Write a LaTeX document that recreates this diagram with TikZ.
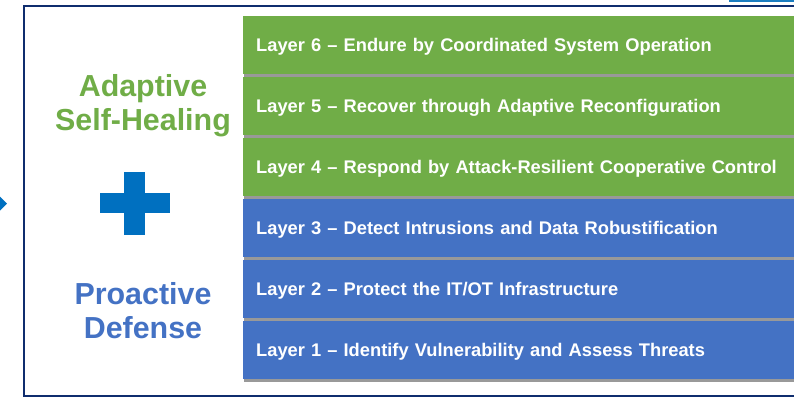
\documentclass[tikz,border=0pt]{standalone}
\usepackage{fontspec}
\setmainfont{Liberation Sans}
\usetikzlibrary{shadows}
\definecolor{layergreen}{HTML}{70AD47}
\definecolor{layerblue}{HTML}{4472C4}
\definecolor{framenavy}{HTML}{0F2D6E}
\definecolor{crossblue}{HTML}{0070C0}
\definecolor{barblue}{HTML}{1A7DC0}
\begin{document}
\begin{tikzpicture}[x=1pt,y=-1pt,
  layerbox/.style={anchor=north west, minimum height=58pt, text width=580pt,
    inner xsep=13pt, inner ysep=0pt, align=left, text=white,
    font=\fontsize{18.3}{20}\selectfont\bfseries, text height=13.1pt, text depth=0pt,
    drop shadow={shadow xshift=0.6pt, shadow yshift=-2.6pt, opacity=0.4, fill=black}},
  greenlayer/.style={layerbox, fill=layergreen},
  bluelayer/.style={layerbox, fill=layerblue},
  headline/.style={anchor=base, inner sep=0pt, font=\fontsize{30.4}{34}\selectfont\bfseries},
  frameline/.style={draw=framenavy, line width=2.3pt},
  ]
\useasboundingbox (0,0) rectangle (794,399);

% accent bar and outer frame
\fill[barblue] (729,0) rectangle (794,2.2);
\draw[frameline] (800,6) -- (24,6) -- (24,396) -- (800,396);

% arrow tip entering from the left
\fill[crossblue] (0,196.5) -- (7,203.5) -- (0,210.5) -- cycle;

% stacked layers
\node[greenlayer] (l6) at (243,16)  {Layer 6 – Endure by Coordinated System Operation};
\node[greenlayer] (l5) at (243,77)  {Layer 5 – Recover through Adaptive Reconfiguration};
\node[greenlayer] (l4) at (243,138) {Layer 4 – Respond by Attack-Resilient Cooperative Control};
\node[bluelayer]  (l3) at (243,199) {Layer 3 – Detect Intrusions and Data Robustification};
\node[bluelayer]  (l2) at (243,260) {Layer 2 – Protect the IT/OT Infrastructure};
\node[bluelayer]  (l1) at (243,321) {Layer 1 – Identify Vulnerability and Assess Threats};

% headings
\node[headline, text=layergreen] (heal1) at (143,96.7)  {Adaptive};
\node[headline, text=layergreen] (heal2) at (143,130)   {Self-Healing};
\node[headline, text=layerblue]  (pro1)  at (143,304)   {Proactive};
\node[headline, text=layerblue]  (pro2)  at (143,338.3) {Defense};

% plus sign
\fill[crossblue] (124,172) rectangle (145,235);
\fill[crossblue] (100,193) rectangle (170,213);
\end{tikzpicture}
\end{document}
